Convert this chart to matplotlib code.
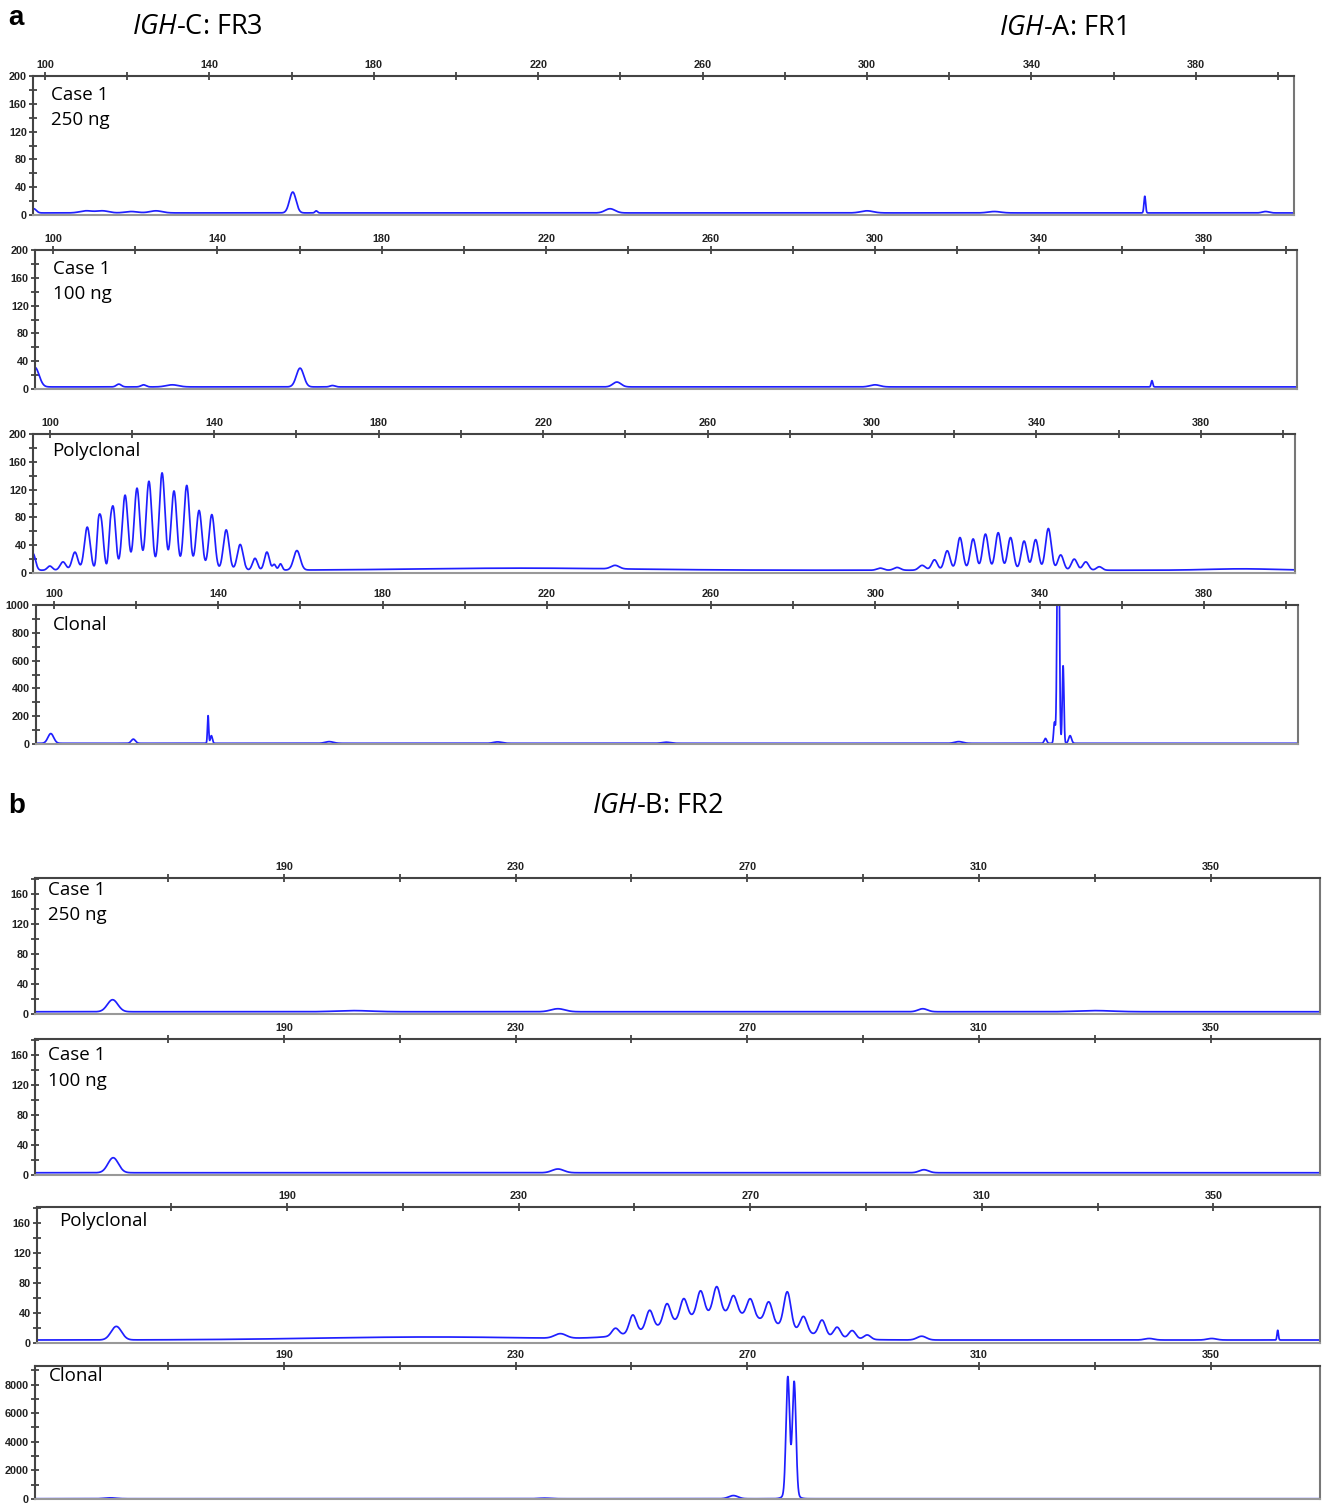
import numpy as np
import matplotlib.pyplot as plt

plt.rcParams['mathtext.fontset'] = 'custom'
plt.rcParams['mathtext.rm'] = 'Open Sans'
plt.rcParams['mathtext.it'] = 'Open Sans:italic'

# ---- peak tables (size in bp, height in RFU, sigma in bp)
# panel a : IGH-C FR3 (left cluster) + IGH-A FR1 (right cluster)
a1_pos = [97.3, 110, 114, 121, 127, 160.3, 166, 237.5, 300, 331, 367.6, 397]
a1_hgt = [6, 3, 3, 2, 3, 30, 3, 6, 3, 2, 24, 2]
a1_wid = [0.6, 1.5, 1.5, 1.5, 1.5, 0.8, 0.3, 1.2, 1.5, 1.5, 0.2, 0.8]

a2_pos = [95.6, 116, 122, 129, 160.1, 168, 237.2, 300, 367.4]
a2_hgt = [28, 4, 3, 3, 27, 2, 7, 3, 9]
a2_wid = [1.0, 0.6, 0.6, 1.5, 0.9, 0.6, 1.0, 1.2, 0.2]

a3_pos = [95.9, 100.0, 103.2, 106.1, 109.1, 111.7, 112.4, 114.6, 115.4, 118.3, 121.2,
          124.1, 127.3, 130.2, 133.3, 136.3, 139.4, 142.9, 146.3, 149.9, 152.8,
          154.6, 156.1, 160.1, 215, 237.5,
          302, 306.1, 312.2, 315.2, 318.3, 321.4, 324.6, 327.6, 330.7, 333.7,
          337.0, 339.8, 342.9, 345.9, 349.2, 352.0, 355.3, 390]
a3_hgt = [24, 6, 12, 26, 62, 30, 74, 28, 90, 108, 118, 128, 140, 114, 122, 86, 80,
          58, 37, 17, 26, 8, 9, 28, 3, 5,
          3, 4, 7, 15, 28, 47, 45, 52, 54, 47, 42, 44, 60, 22, 16, 12, 5, 2]
a3_wid = [0.6, 0.6, 0.7, 0.7, 0.7, 0.35, 0.6, 0.35, 0.6, 0.7, 0.7, 0.7, 0.7, 0.7,
          0.7, 0.7, 0.7, 0.7, 0.7, 0.6, 0.6, 0.4, 0.4, 0.8, 25, 1.0,
          0.8, 0.8, 0.8, 0.7, 0.7, 0.7, 0.7, 0.7, 0.7, 0.7, 0.7, 0.7, 0.7,
          0.7, 0.7, 0.7, 0.7, 8]

a4_pos = [99.2, 119.3, 137.5, 138.3, 167, 208, 249, 320.3, 341.4, 343.6, 344.5, 345.7, 347.4]
a4_hgt = [70, 30, 200, 55, 12, 10, 8, 12, 35, 150, 2000, 560, 55]
a4_wid = [0.7, 0.5, 0.15, 0.25, 1.0, 1.0, 1.0, 1.0, 0.3, 0.2, 0.25, 0.2, 0.35]

# panel b : IGH-B FR2
b1_pos = [160.4, 202, 237.3, 300.3, 330]
b1_hgt = [16, 1.5, 4, 4, 1.5]
b1_wid = [0.9, 3, 1.2, 0.8, 3]

b2_pos = [160.5, 237.3, 300.5]
b2_hgt = [20, 5, 4]
b2_wid = [0.9, 1.0, 0.8]

b3_pos = [160.5, 215, 237.2, 265, 246.7, 249.7, 252.6, 255.6, 258.5, 261.4, 264.2,
          267.1, 270.0, 273.2, 276.4, 279.2, 282.4, 285.0, 287.6, 290.2,
          299.6, 338.9, 349.7, 361.1]
b3_hgt = [18, 4, 6, 36, 10, 24, 25, 27, 27, 32, 35, 24, 24, 27, 48, 21, 21, 14, 11, 6,
          5, 2, 2, 13]
b3_wid = [0.9, 20, 1.0, 9, 0.6, 0.6, 0.6, 0.6, 0.6, 0.6, 0.6, 0.6, 0.6, 0.6, 0.6,
          0.6, 0.6, 0.6, 0.6, 0.6, 0.8, 0.8, 0.8, 0.12]

b4_pos = [160, 235, 267.6, 277.5, 277.0, 278.1]
b4_hgt = [60, 40, 220, 500, 8100, 7800]
b4_wid = [1.0, 1.0, 0.8, 0.9, 0.31, 0.31]

labels = ["Case 1\n250 ng", "Case 1\n100 ng", "Polyclonal", "Clonal"]

W, H = 1325, 1504
fig = plt.figure(figsize=(W / 100, H / 100), dpi=100)
tickfont = ['Liberation Sans Narrow', 'Liberation Sans', 'DejaVu Sans']
blue = '#1f1fff'


def trace(x, pos, hgt, wid, base):
    y = np.full_like(x, base)
    for p, h, w in zip(pos, hgt, wid):
        y += h * np.exp(-(x - p) ** 2 / (2 * w ** 2))
    return y


def panel(box, xlim, ylim, xstep, xlab, ystep, ylab, pos, hgt, wid, base, label, tpos):
    l, r, t, b = box
    ax = fig.add_axes([l / W, 1 - b / H, (r - l) / W, (b - t) / H])
    x = np.arange(xlim[0], xlim[1], 0.04)
    ax.plot(x, trace(x, pos, hgt, wid, base), color=blue, lw=1.25)
    ax.set_xlim(xlim)
    ax.set_ylim(ylim)
    xt = np.arange(xstep[0], xlim[1] + 0.1, xstep[1])
    ax.set_xticks(xt)
    ax.set_xticklabels([str(int(v)) if int(v) in xlab else '' for v in xt])
    yt = np.arange(0, ylim[1] + 0.1, ystep)
    ax.set_yticks(yt)
    ax.set_yticklabels([str(int(v)) if int(v) in ylab else '' for v in yt])
    ax.xaxis.tick_top()
    ax.tick_params(axis='both', which='both', direction='inout', length=6,
                   width=1.2, color='#333333', pad=1.5, labelsize=7.8)
    for lab in ax.get_xticklabels() + ax.get_yticklabels():
        lab.set_family(tickfont)
        lab.set_fontweight('bold')
        lab.set_color('#222222')
    ax.spines['top'].set_color('#444444')
    ax.spines['left'].set_color('#444444')
    ax.spines['right'].set_color('#777777')
    ax.spines['bottom'].set_color('#999999')
    for s in ax.spines.values():
        s.set_linewidth(1.5)
    ax.text(tpos[0], tpos[1], label, transform=ax.transAxes, va='top', ha='left',
            fontsize=13.5, family='Open Sans', linespacing=1.55)
    return ax


alab = [100, 140, 180, 220, 260, 300, 340, 380]
blab = [190, 230, 270, 310, 350]
ylab_a = [0, 40, 80, 120, 160, 200]
ylab_b = [0, 40, 80, 120, 160]

panel((33, 1294, 76, 215), (97.1, 403.9), (0, 200), (100, 20), alab, 20, ylab_a,
      a1_pos, a1_hgt, a1_wid, 3, labels[0], (0.014, 0.93))
panel((35, 1297, 250, 389), (95.6, 402.7), (0, 200), (100, 20), alab, 20, ylab_a,
      a2_pos, a2_hgt, a2_wid, 3, labels[1], (0.014, 0.93))
panel((33, 1295, 434, 573), (95.9, 402.9), (0, 200), (100, 20), alab, 20, ylab_a,
      a3_pos, a3_hgt, a3_wid, 4, labels[2], (0.015, 0.94))
panel((36, 1298, 605, 744), (95.6, 402.9), (0, 1000), (100, 20), alab, 100,
      [0, 200, 400, 600, 800, 1000], a4_pos, a4_hgt, a4_wid, 5, labels[3], (0.013, 0.92))

panel((35, 1320, 878, 1014), (147.0, 368.9), (0, 181), (170, 20), blab, 20, ylab_b,
      b1_pos, b1_hgt, b1_wid, 3, labels[0], (0.01, 0.98))
panel((35, 1320, 1039, 1175), (147.0, 368.9), (0, 181), (170, 20), blab, 20, ylab_b,
      b2_pos, b2_hgt, b2_wid, 3, labels[1], (0.01, 0.95))
panel((37, 1320, 1207, 1343), (146.8, 368.4), (0, 181), (170, 20), blab, 20, ylab_b,
      b3_pos, b3_hgt, b3_wid, 4, labels[2], (0.017, 0.96))
panel((35, 1320, 1366, 1499), (147.0, 368.9), (0, 9300), (170, 20), blab, 1000,
      [0, 2000, 4000, 6000, 8000], b4_pos, b4_hgt, b4_wid, 20, labels[3], (0.011, 0.99))

# panel letters and assay titles
fig.text(16 / W, 1 - 18 / H, 'a', fontsize=20, fontweight='bold', family='Liberation Sans',
         ha='center', va='center')
fig.text(17 / W, 1 - 806 / H, 'b', fontsize=20, fontweight='bold', family='Liberation Sans',
         ha='center', va='center')
fig.text(197 / W, 1 - 27 / H, r'$\mathit{IGH}$-C: FR3', fontsize=19.5, family='Open Sans',
         ha='center', va='center')
fig.text(1062 / W, 1 - 28 / H, r'$\mathit{IGH}$-A: FR1', fontsize=19.5, family='Open Sans',
         ha='center', va='center')
fig.text(658 / W, 1 - 806 / H, r'$\mathit{IGH}$-B: FR2', fontsize=19.5, family='Open Sans',
         ha='center', va='center')

plt.savefig('out.png', dpi=100)
